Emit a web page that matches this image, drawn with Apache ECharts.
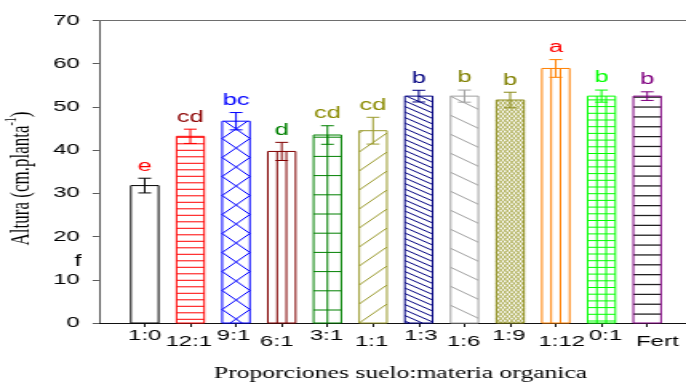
<!DOCTYPE html>
<html>
<head>
<meta charset="utf-8">
<script src="https://cdn.jsdelivr.net/npm/echarts@6/dist/echarts.min.js"></script>
<style>
html,body{margin:0;padding:0;background:#fff;overflow:hidden;width:686px;height:385px;}
#chart{width:429px;height:385px;transform:scaleX(1.5991);transform-origin:0 0;}
</style>
</head>
<body>
<div id="chart"></div>
<script>
// ---- data ----
const categories = ['1:0','12:1','9:1','6:1','3:1','1:1','1:3','1:6','1:9','1:12','0:1','Fert'];
const alturaMean = [31.8, 43.2, 46.7, 39.7, 43.5, 44.5, 52.5, 52.5, 51.6, 58.9, 52.5, 52.5];
const alturaErr  = [1.7, 1.65, 2.0, 2.1, 2.15, 3.1, 1.35, 1.4, 1.8, 2.05, 1.4, 1.0];
const letters    = ['e','cd','bc','d','cd','cd','b','b','b','a','b','b'];
const strayLetter = 'f';
const strayLetterAt = [-0.46, 14.1];
const yTicks = [0, 10, 20, 30, 40, 50, 60, 70];
const xPositions = [1,2,3,4,5,6,7,8,9,10,11,12];

// ---- styles ----
const S = 686 / 429;            // horizontal stretch of the page
const BAR_W = 27.7 / S;
const CAP_HALF = 4;
const barColors = ['#000000','#FF0000','#0000FF','#800000','#008000','#9B9B2E','#000080','#A0A0A0','#8B8B1A','#FF8000','#00FF00','#800080'];
const letterColors = ['#FF0000','#8B0000','#0000FF','#008000','#8B8B00','#8B8B00','#000080','#808000','#808000','#FF0000','#00FF00','#800080'];
const patterns = [
  [],
  [{t:'h', s:6.5, p:3.7}],
  [{t:'d', s:19, d:19, dir:1, p:13.5}, {t:'d', s:19, d:19, dir:-1, p:13.5}],
  [{t:'v', f:[1/3, 2/3]}],
  [{t:'v', f:[0.5]}, {t:'h', s:19.2, p:13}],
  [{t:'d', s:19, d:19, dir:-1, p:0}],
  [{t:'d', s:5.5, d:12, dir:1, p:2}],
  [{t:'d', s:19, d:13, dir:1, p:17.7}],
  [{t:'d', s:4.4, d:27.7, dir:1, p:0, lw:0.7, c:'#9B9B2E'}, {t:'d', s:4.4, d:27.7, dir:-1, p:0, lw:0.7, c:'#9B9B2E'}],
  [{t:'v', f:[1/3, 2/3]}],
  [{t:'v', f:[1/3, 2/3]}, {t:'h', s:6.7, p:2}],
  [{t:'h', s:9.86, p:8.9, c:'#222222', lw:1.3}]
];
const labelShift = [0, -1.5, -2.5, -5, -1, -1.5, 2, -1, -1.5, 6, 4, 10]; // stretched px

function lineEl(x1, y1, x2, y2, color, lw) {
  return {type:'line', shape:{x1:x1, y1:y1, x2:x2, y2:y2}, style:{stroke:color, lineWidth:lw}, silent:true};
}

function addPattern(out, pat, L, R, T, B, color) {
  const c = pat.c || color, lw = pat.lw || 1;
  if (pat.t === 'h') {
    for (let y = B - pat.p; y > T + 0.8; y -= pat.s) out.push(lineEl(L, y, R, y, c, lw));
  } else if (pat.t === 'v') {
    pat.f.forEach(function (f) { const x = L + (R - L) * f; out.push(lineEl(x, T, x, B, c, lw)); });
  } else if (pat.t === 'd') {
    const dy = pat.dir * pat.d;
    let start = B - pat.p;
    while (start < B + pat.d + pat.s) start += pat.s;
    for (let y0 = start; y0 > T - pat.d - pat.s; y0 -= pat.s) {
      const ta = (T - y0) / dy, tb = (B - y0) / dy;
      const lo = Math.max(0, Math.min(ta, tb)), hi = Math.min(1, Math.max(ta, tb));
      if (hi - lo <= 1e-6) continue;
      out.push(lineEl(L + (R - L) * lo, y0 + dy * lo, L + (R - L) * hi, y0 + dy * hi, c, lw));
    }
  }
}

function renderItem(params, api) {
  const i = params.dataIndex;
  const xv = api.value(0), m = api.value(1), e = api.value(2);
  const base = api.coord([xv, 0]);
  const T = api.coord([xv, m])[1];
  const eTop = api.coord([xv, m + e])[1];
  const eBot = api.coord([xv, m - e])[1];
  const cx = base[0], B = base[1];
  const L = cx - BAR_W / 2, R = cx + BAR_W / 2;
  const color = barColors[i];
  const kids = [];
  kids.push({type:'rect', shape:{x:L, y:T, width:BAR_W, height:B - T}, style:{fill:'#ffffff', stroke:null}});
  patterns[i].forEach(function (p) { addPattern(kids, p, L, R, T, B, color); });
  kids.push({type:'rect', shape:{x:L, y:T, width:BAR_W, height:B - T}, style:{fill:'none', stroke:color, lineWidth:1}});
  kids.push(lineEl(cx, eTop, cx, eBot, color, 1));
  kids.push(lineEl(cx - CAP_HALF, eTop, cx + CAP_HALF, eTop, color, 1));
  kids.push(lineEl(cx - CAP_HALF, eBot, cx + CAP_HALF, eBot, color, 1));
  kids.push({type:'text', x:cx, y:eTop - 12, style:{text:letters[i], fill:letterColors[i], fontSize:16, fontFamily:'Liberation Sans', align:'center', verticalAlign:'middle'}});
  return {type:'group', children:kids};
}

const rich = {};
categories.forEach(function (c, i) {
  const n = labelShift[i] / S;
  rich['l' + i] = {
    fontSize:15, fontFamily:'Liberation Sans', color:'#000',
    padding:[i % 2 === 1 ? 6 : 0, n < 0 ? -2 * n : 0, 0, n > 0 ? 2 * n : 0]
  };
});

const chart = echarts.init(document.getElementById('chart'));
const xMax = (686 - 99) / 45.68 ;
chart.setOption({
  animation:false,
  backgroundColor:'#ffffff',
  grid:{left:99 / S, right:0, top:20.5, bottom:62, containLabel:false, outerBoundsMode:'none'},
  xAxis:[{
    type:'value', min:0, max:xMax, position:'bottom',
    axisLine:{show:true, lineStyle:{color:'#111', width:1}},
    axisTick:{show:true, length:4, lineStyle:{color:'#111'}, customValues:xPositions},
    axisLabel:{customValues:xPositions, margin:5, rich:rich,
      formatter:function (v) { const i = Math.round(v) - 1; return (i >= 0 && i < categories.length) ? '{l' + i + '|' + categories[i] + '}' : ''; }},
    splitLine:{show:false},
    name:'Proporciones suelo:materia organica', nameLocation:'middle', nameGap:43,
    nameTextStyle:{fontFamily:'Liberation Serif', fontSize:16, color:'#000', padding:[0,0,0,10]}
  },{
    type:'value', min:0, max:xMax, position:'top',
    axisLine:{show:true, lineStyle:{color:'#6e6e6e', width:1}},
    axisTick:{show:false}, axisLabel:{show:false}, splitLine:{show:false}
  }],
  yAxis:{
    type:'value', min:0, max:70, interval:10,
    axisLine:{show:true, lineStyle:{color:'#5a5a5a', width:1}},
    axisTick:{show:true, length:4, lineStyle:{color:'#5a5a5a'}, customValues:yTicks},
    axisLabel:{customValues:yTicks, margin:12, fontSize:15, fontFamily:'Liberation Sans', color:'#000'},
    splitLine:{show:false},
    name:'{a|Altura (cm.planta}{s|-1}{a|)}', nameLocation:'middle', nameRotate:90, nameGap:39,
    nameTextStyle:{padding:[0,13.5,0,0], rich:{
      a:{fontFamily:'Liberation Serif', fontSize:17, color:'#000', lineHeight:20, verticalAlign:'bottom'},
      s:{fontFamily:'Liberation Serif', fontSize:10, color:'#000', lineHeight:10, verticalAlign:'top'}
    }}
  },
  series:[{
    type:'custom', xAxisIndex:0, yAxisIndex:0,
    renderItem:renderItem, clip:false,
    encode:{x:0, y:1},
    data:alturaMean.map(function (m, i) { return [xPositions[i], m, alturaErr[i]]; })
  }]
});
const fp = chart.convertToPixel({xAxisIndex:0, yAxisIndex:0}, strayLetterAt);
chart.setOption({graphic:[{type:'text', x:fp[0], y:fp[1], style:{text:strayLetter, fill:'#000', fontSize:16, fontFamily:'Liberation Sans', align:'center', verticalAlign:'middle'}}]});
</script>
</body>
</html>
